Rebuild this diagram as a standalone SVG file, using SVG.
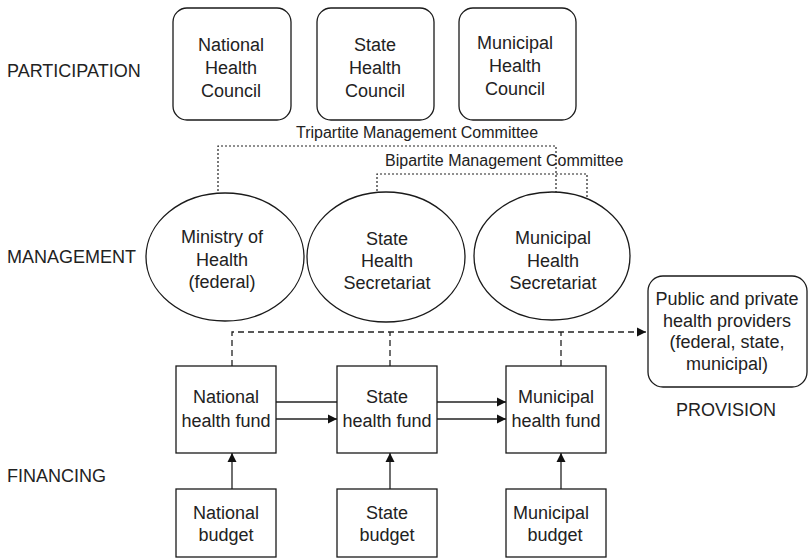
<svg xmlns="http://www.w3.org/2000/svg" width="808" height="559" viewBox="0 0 808 559">
<style>
.s{fill:#fff;stroke:#1a1a1a;stroke-width:1.3}
.t{font-family:"Liberation Sans",Arial,sans-serif;font-size:18px;fill:#222;text-anchor:middle}
.l{font-family:"Liberation Sans",Arial,sans-serif;font-size:18px;fill:#222}
.c{font-family:"Liberation Sans",Arial,sans-serif;font-size:16px;fill:#222}
.dot{fill:none;stroke:#222;stroke-width:1.2;stroke-dasharray:2 2}
.dash{fill:none;stroke:#222;stroke-width:1.3;stroke-dasharray:6 4}
.ln{fill:none;stroke:#222;stroke-width:1.3}
</style>
<defs>
<marker id="ah" markerWidth="10" markerHeight="10" refX="9" refY="5" orient="auto" markerUnits="userSpaceOnUse">
<path d="M0,0.5 L9,5 L0,9.5 Z" fill="#111"/>
</marker>
</defs>
<rect width="808" height="559" fill="#fff"/>
<g id="labels">
<text class="l" x="7" y="77">PARTICIPATION</text>
<text class="l" x="7" y="263">MANAGEMENT</text>
<text class="l" x="7" y="482">FINANCING</text>
<text class="t" x="726" y="416">PROVISION</text>
<text class="c" x="296" y="138">Tripartite Management Committee</text>
<text class="c" x="385" y="166">Bipartite Management Committee</text>
</g>
<g id="connectors">
<path class="dot" d="M218,195 V146 H556 V195"/>
<path class="dot" d="M377,199 V174 H587 V200"/>
<path class="dash" d="M232,366 V332 H638"/>
<path class="dash" d="M390,366 V332"/>
<path class="dash" d="M561,366 V332"/>
<path class="ln" d="M638,332 H646" marker-end="url(#ah)"/>
<path class="ln" d="M276,402 H337"/>
<path class="ln" d="M276,419 H337" marker-end="url(#ah)"/>
<path class="ln" d="M437,402 H506" marker-end="url(#ah)"/>
<path class="ln" d="M437,419 H506" marker-end="url(#ah)"/>
<path class="ln" d="M232,489 V453" marker-end="url(#ah)"/>
<path class="ln" d="M390,489 V453" marker-end="url(#ah)"/>
<path class="ln" d="M561,489 V453" marker-end="url(#ah)"/>
</g>
<g id="national-council"><rect class="s" x="173" y="8" width="118" height="112" rx="14"/>
<text class="t" x="231"><tspan x="231" y="51">National</tspan><tspan x="231" y="74">Health</tspan><tspan x="231" y="97">Council</tspan></text></g>
<g id="state-council"><rect class="s" x="317" y="8" width="117" height="112" rx="14"/>
<text class="t" x="375"><tspan x="375" y="51">State</tspan><tspan x="375" y="74">Health</tspan><tspan x="375" y="97">Council</tspan></text></g>
<g id="municipal-council"><rect class="s" x="459" y="8" width="117" height="112" rx="14"/>
<text class="t" x="515"><tspan x="515" y="49">Municipal</tspan><tspan x="515" y="72">Health</tspan><tspan x="515" y="95">Council</tspan></text></g>
<g id="ministry"><ellipse class="s" cx="225" cy="257" rx="79" ry="64"/>
<text class="t"><tspan x="222" y="243">Ministry of</tspan><tspan x="222" y="266">Health</tspan><tspan x="222" y="288">(federal)</tspan></text></g>
<g id="state-secretariat"><ellipse class="s" cx="386" cy="257" rx="79" ry="65"/>
<text class="t"><tspan x="387" y="245">State</tspan><tspan x="387" y="267">Health</tspan><tspan x="387" y="289">Secretariat</tspan></text></g>
<g id="municipal-secretariat"><ellipse class="s" cx="552" cy="256" rx="78" ry="64"/>
<text class="t"><tspan x="553" y="244">Municipal</tspan><tspan x="553" y="267">Health</tspan><tspan x="553" y="289">Secretariat</tspan></text></g>
<g id="providers"><rect class="s" x="648" y="276" width="159" height="111" rx="15"/>
<text class="t"><tspan x="727" y="305">Public and private</tspan><tspan x="727" y="327">health providers</tspan><tspan x="727" y="348">(federal, state,</tspan><tspan x="727" y="370">municipal)</tspan></text></g>
<g id="national-fund"><rect class="s" x="176" y="366" width="100" height="87"/>
<text class="t"><tspan x="226" y="403">National</tspan><tspan x="226" y="427">health fund</tspan></text></g>
<g id="state-fund"><rect class="s" x="337" y="366" width="100" height="87"/>
<text class="t"><tspan x="387" y="403">State</tspan><tspan x="387" y="427">health fund</tspan></text></g>
<g id="municipal-fund"><rect class="s" x="506" y="366" width="100" height="87"/>
<text class="t"><tspan x="556" y="403">Municipal</tspan><tspan x="556" y="427">health fund</tspan></text></g>
<g id="national-budget"><rect class="s" x="176" y="489" width="100" height="68"/>
<text class="t"><tspan x="226" y="519">National</tspan><tspan x="226" y="541">budget</tspan></text></g>
<g id="state-budget"><rect class="s" x="337" y="489" width="100" height="68"/>
<text class="t"><tspan x="387" y="519">State</tspan><tspan x="387" y="541">budget</tspan></text></g>
<g id="municipal-budget"><rect class="s" x="506" y="489" width="100" height="68"/>
<text class="t"><tspan x="551" y="519">Municipal</tspan><tspan x="555" y="541">budget</tspan></text></g>
</svg>
